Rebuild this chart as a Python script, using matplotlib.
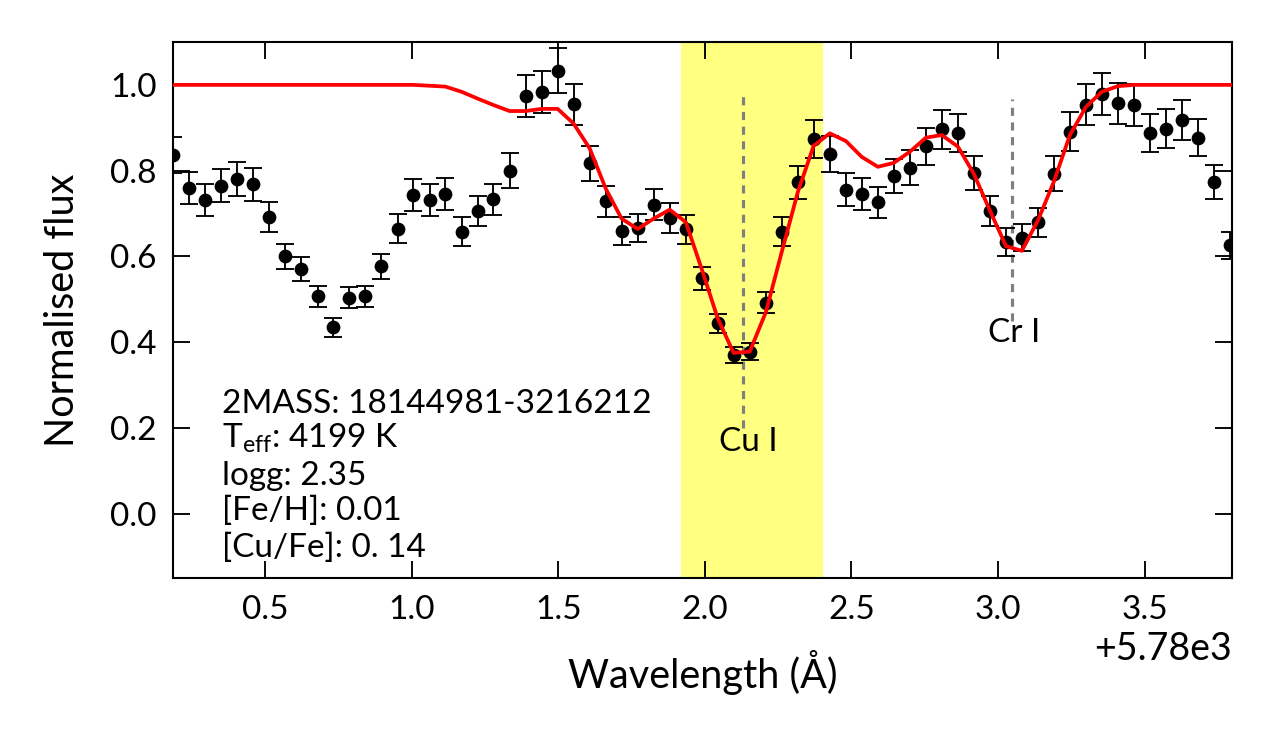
import matplotlib
matplotlib.use("Agg")
import matplotlib.pyplot as plt
import numpy as np

plt.rcParams['font.family'] = ['Lato', 'DejaVu Sans']
plt.rcParams['mathtext.fontset'] = 'custom'
plt.rcParams['mathtext.rm'] = 'Lato'
plt.rcParams['mathtext.it'] = 'Lato:italic'
plt.rcParams['mathtext.bf'] = 'Lato:bold'

# wavelength offsets from 5780 Angstrom
wave_offset = [0.187, 0.242, 0.296, 0.351, 0.405, 0.460, 0.515, 0.569, 0.624, 0.679,
               0.733, 0.788, 0.842, 0.897, 0.952, 1.006, 1.061, 1.115, 1.170, 1.225,
               1.279, 1.334, 1.389, 1.443, 1.498, 1.552, 1.607, 1.662, 1.716, 1.771,
               1.825, 1.880, 1.935, 1.989, 2.044, 2.098, 2.153, 2.208, 2.262, 2.317,
               2.371, 2.426, 2.481, 2.535, 2.590, 2.644, 2.699, 2.754, 2.808, 2.863,
               2.917, 2.972, 3.027, 3.081, 3.136, 3.190, 3.245, 3.300, 3.354, 3.409,
               3.463, 3.518, 3.573, 3.627, 3.682, 3.736, 3.791]
flux = [0.836, 0.760, 0.732, 0.765, 0.781, 0.768, 0.692, 0.600, 0.570, 0.507,
        0.435, 0.504, 0.507, 0.577, 0.665, 0.744, 0.732, 0.746, 0.658, 0.705,
        0.733, 0.800, 0.975, 0.984, 1.033, 0.955, 0.817, 0.729, 0.659, 0.666,
        0.721, 0.690, 0.663, 0.549, 0.444, 0.370, 0.378, 0.492, 0.658, 0.773,
        0.873, 0.838, 0.756, 0.745, 0.726, 0.787, 0.807, 0.857, 0.896, 0.888,
        0.794, 0.705, 0.634, 0.644, 0.680, 0.793, 0.891, 0.954, 0.978, 0.957,
        0.953, 0.888, 0.898, 0.918, 0.877, 0.774, 0.626]
flux_err = [0.042, 0.038, 0.037, 0.038, 0.039, 0.038, 0.035, 0.030, 0.028, 0.025,
            0.022, 0.025, 0.025, 0.029, 0.033, 0.037, 0.037, 0.037, 0.033, 0.035,
            0.037, 0.040, 0.049, 0.049, 0.052, 0.048, 0.041, 0.036, 0.033, 0.033,
            0.036, 0.035, 0.033, 0.027, 0.022, 0.019, 0.019, 0.025, 0.033, 0.039,
            0.044, 0.042, 0.038, 0.037, 0.036, 0.039, 0.040, 0.043, 0.045, 0.044,
            0.040, 0.035, 0.032, 0.032, 0.034, 0.040, 0.045, 0.048, 0.049, 0.048,
            0.048, 0.044, 0.045, 0.046, 0.044, 0.039, 0.031]
model = [1.000, 1.000, 1.000, 1.000, 1.000, 1.000, 1.000, 1.000, 1.000, 1.000,
         1.000, 1.000, 1.000, 1.000, 1.000, 1.000, 0.998, 0.996, 0.984, 0.968,
         0.953, 0.939, 0.939, 0.944, 0.944, 0.910, 0.852, 0.758, 0.688, 0.664,
         0.688, 0.709, 0.680, 0.571, 0.455, 0.375, 0.378, 0.470, 0.610, 0.750,
         0.858, 0.887, 0.869, 0.832, 0.809, 0.818, 0.844, 0.877, 0.883, 0.856,
         0.793, 0.707, 0.624, 0.613, 0.684, 0.774, 0.883, 0.949, 0.984, 0.997,
         1.000, 1.000, 1.000, 1.000, 1.000, 1.000, 1.000]

wave_base = 5780.0
band = [1.917, 2.403]
line_names = ["Cu I", "Cr I"]
line_pos = [2.129, 3.049]
info_lines = ["2MASS: 18144981-3216212",
              r"T$_{\mathrm{eff}}$: 4199 K",
              "logg: 2.35",
              "[Fe/H]: 0.01",
              "[Cu/Fe]: 0. 14"]

wave = wave_base + np.array(wave_offset)

fig = plt.figure(figsize=(8.5, 5), dpi=150)
ax = fig.add_axes([0.1359, 0.2293, 0.8302, 0.7147])

ax.axvspan(wave_base + band[0], wave_base + band[1], color='#ffff80', lw=0, zorder=0)

ax.errorbar(wave, flux, yerr=flux_err, fmt='o', color='black', ms=5.6,
            elinewidth=0.9, capsize=4.2, capthick=0.9, zorder=3)
ax.plot(wave, model, color='red', lw=1.8, zorder=4)

# line markers
dash = (0, (2.6, 2.1))
ax.vlines(wave_base + line_pos[0], 0.20, 0.977, colors='#7f7f7f', lw=1.5,
          linestyles=[dash], zorder=2)
ax.vlines(wave_base + line_pos[1], 0.45, 0.967, colors='#7f7f7f', lw=1.5,
          linestyles=[dash], zorder=2)
ax.text(wave_base + 2.148, 0.147, line_names[0], ha='center', va='baseline', fontsize=16)
ax.text(wave_base + 3.053, 0.400, line_names[1], ha='center', va='baseline', fontsize=16)

ys = [0.308, 0.2425, 0.1735, 0.108, 0.039]
for t, yy in zip(info_lines, ys):
    ax.text(0.0457, yy, t, transform=ax.transAxes, ha='left', va='baseline', fontsize=16)

ax.set_xlim(wave_base + 0.187, wave_base + 3.797)
ax.set_ylim(-0.15, 1.1)
ax.set_yticks([0.0, 0.2, 0.4, 0.6, 0.8, 1.0])
ax.set_xticks(wave_base + np.array([0.5, 1.0, 1.5, 2.0, 2.5, 3.0, 3.5]))
ax.ticklabel_format(axis='x', useOffset=wave_base)
ax.tick_params(direction='in', length=8, width=0.9, top=True, right=True,
               labelsize=16, pad=8)
for s in ax.spines.values():
    s.set_linewidth(1.0)
ax.xaxis.get_offset_text().set_fontsize(18)

ax.set_xlabel("Wavelength (Å)", fontsize=19, labelpad=12)
ax.set_ylabel("Normalised flux", fontsize=19, labelpad=14)

fig.savefig("out.png", dpi=150)
